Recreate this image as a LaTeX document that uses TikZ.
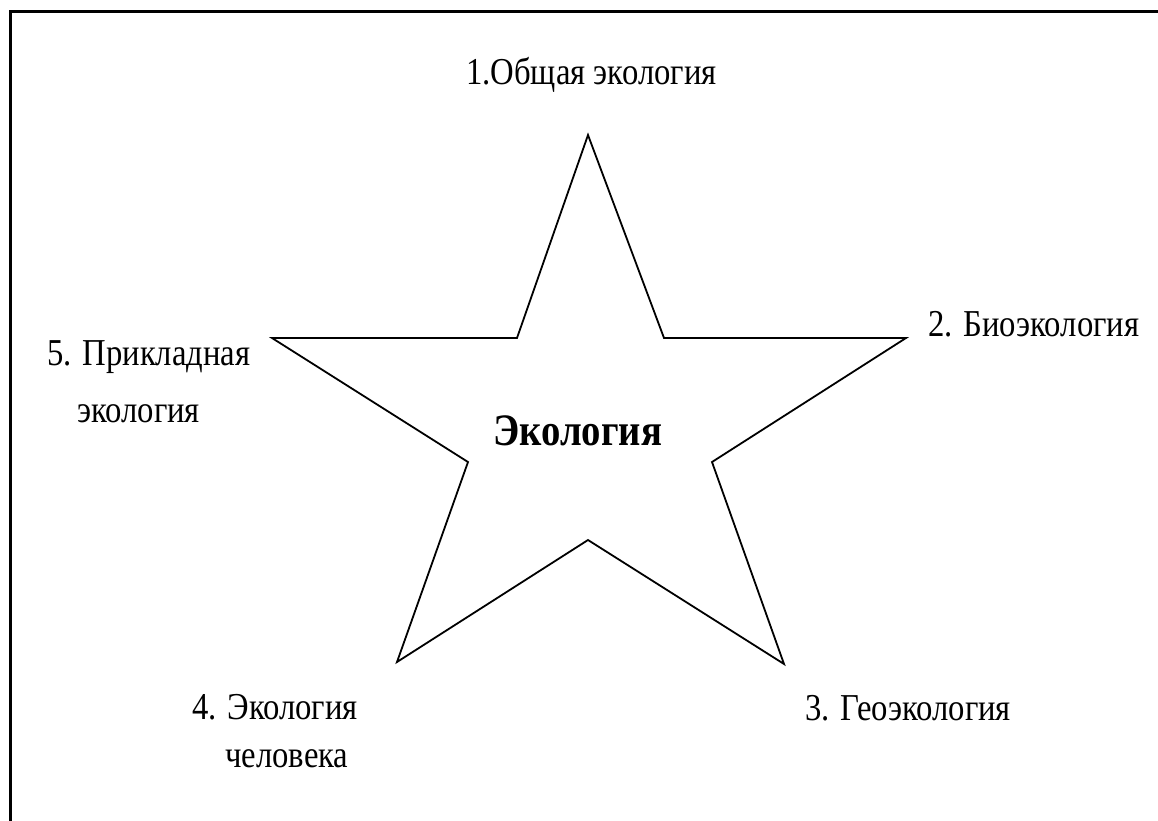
\documentclass[tikz,border=0pt]{standalone}
\usepackage{fontspec}
\setmainfont[FakeStretch=0.86]{Liberation Serif}
\begin{document}
\begin{tikzpicture}[x=1pt,y=-1pt,
  lbl/.style={inner sep=0pt,anchor=base west,font=\fontsize{38}{46}\selectfont},
  star/.style={draw=black,line width=1.8pt,line join=miter}]
\useasboundingbox (0,0) rectangle (1158,821);
\fill[white] (0,0) rectangle (1158,821);
\draw[line width=2.6pt] (10.3,821) -- (10.3,11.8) -- (1158,11.8);
% star
\coordinate (t) at (588,135);
\coordinate (ur) at (664,338);
\coordinate (r) at (906,338);
\coordinate (lr) at (712,462);
\coordinate (br) at (784,664);
\coordinate (b) at (588,540);
\coordinate (bl) at (397,662);
\coordinate (ll) at (468,462);
\coordinate (l) at (272,338);
\coordinate (ul) at (517,338);
\draw[star] (t) -- (ur) -- (r) -- (lr) -- (br) -- (b) -- (bl) -- (ll) -- (l) -- (ul) -- cycle;
\node[lbl] (n1) at (466,85) {1.Общая экология};
\node[lbl] (n2) at (928,336) {2. Биоэкология};
\node[lbl] (n3) at (805,720) {3. Геоэкология};
\node[lbl] (n4) at (192,719) {4. Экология};
\node[lbl] (n4b) at (225,767) {человека};
\node[lbl] (n5) at (47,365) {5. Прикладная};
\node[lbl] (n5b) at (77,422) {экология};
\node[lbl,font=\fontsize{45}{52}\selectfont\bfseries] (c) at (493,445) {Экология};
\end{tikzpicture}
\end{document}
